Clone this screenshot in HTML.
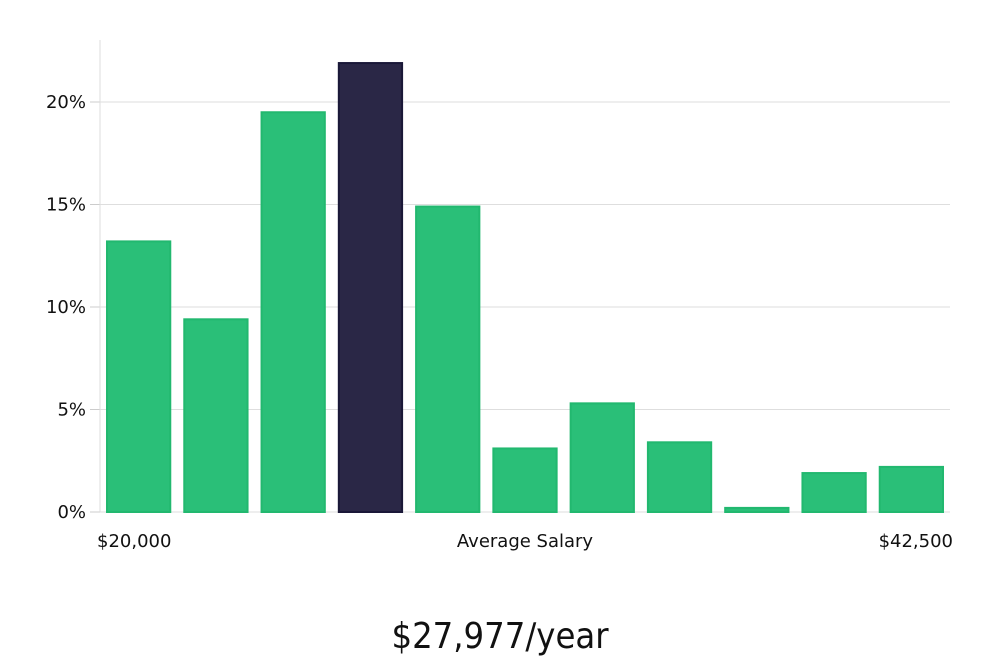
<!DOCTYPE html>
<html><head><meta charset="utf-8"><style>
body{margin:0;background:#fff;width:1000px;height:660px;overflow:hidden;font-family:"DejaVu Sans","Liberation Sans",sans-serif}
</style></head><body>
<svg id="c" width="1000" height="660"></svg>
<script>
const categories=["b1","b2","b3","b4","b5","b6","b7","b8","b9","b10","b11"];
const values=[13.2,9.4,19.5,21.9,14.9,3.1,5.3,3.4,0.2,1.9,2.2];
const highlight=[false,false,false,true,false,false,false,false,false,false,false];
const yTicks=[0,5,10,15,20];
const yTickLabels=["0%","5%","10%","15%","20%"];
const ns="http://www.w3.org/2000/svg";
const svg=document.getElementById('c');
const x0=100,x1=950,yBase=512,yTop=40;
const y=v=>yBase-v*(410/20);
const slot=(x1-x0)/categories.length;
function mk(t,a,p){const e=document.createElementNS(ns,t);for(const k in a)e.setAttribute(k,a[k]);(p||svg).appendChild(e);return e;}
yTicks.forEach((t,i)=>{
  const g=mk('line',{x1:x0,x2:x1,y1:y(t),y2:y(t),stroke:'#dedede','stroke-width':1});
  
  
  const tk=mk('line',{x1:x0-10,x2:x0,y1:y(t),y2:y(t),stroke:'#ccc'});
  
  
  const l=mk('text',{x:x0-14,y:y(t)+6,'text-anchor':'end','font-size':18,fill:'#111'});
  l.textContent=yTickLabels[i];
  
  
});
const ax=mk('line',{x1:x0,x2:x0,y1:yTop,y2:yBase,stroke:'#ddd'});


values.forEach((v,i)=>{
  const bx=x0+i*slot+7;
  const r=mk('rect',{x:bx,y:y(v),width:slot-14,height:yBase-y(v),fill:highlight[i]?'#2a2746':'#2abf78',stroke:highlight[i]?'#1a1838':'#22b86f','stroke-width':2});
  
  
});
function txt(s,x,yy,anc,size,name,ff){const t=mk('text',{x:x,y:yy,'text-anchor':anc,'font-size':size,fill:'#111'});if(ff)t.setAttribute('font-family',ff);t.textContent=s;return t;}
txt('$20,000',97,547,'start',18,'x-min-label');
txt('Average Salary',525,547,'middle',18,'x-axis-title');
txt('$42,500',953,547,'end',18,'x-max-label');
txt('$27,977/year',500,648,'middle',36,'average-salary-value','"Liberation Sans Narrow","DejaVu Sans Condensed","Liberation Sans",sans-serif');
</script>
</body></html>
